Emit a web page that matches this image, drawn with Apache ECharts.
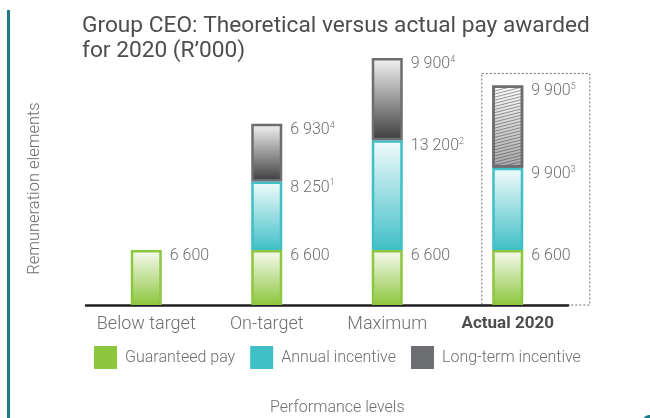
<!DOCTYPE html>
<html>
<head>
<meta charset="utf-8">
<title>Group CEO pay</title>
<script src="https://cdn.jsdelivr.net/npm/echarts@6/dist/echarts.min.js"></script>
<style>
  html, body { margin: 0; padding: 0; background: #fff; }
  #chart { width: 650px; height: 418px; }
</style>
</head>
<body>
<div id="chart"></div>
<script>
// data (R'000)
const categories = ['Below target', 'On-target', 'Maximum', 'Actual 2020']
const guaranteedPay = [6600, 6600, 6600, 6600]
const annualIncentive = [null, 8250, 13200, 9900]
const longTermIncentive = [null, 6930, 9900, 9900]
// footnote markers next to the value labels
const annualNotes = ['', '1', '2', '3']
const longTermNotes = ['', '4', '4', '5']
const seriesNames = ['Guaranteed pay', 'Annual incentive', 'Long-term incentive']

const GREEN = '#8dc63f'
const CYAN = '#40bfc6'
const GREY = '#6d6e71'
const TEXT = '#6d6e71'
const FONT = 'Roboto'

const chart = echarts.init(document.getElementById('chart'))

// 6600 -> "6 600"
const fmt = (v) => String(v).replace(/\B(?=(\d{3})+(?!\d))/g, ' ')

const grad = (c0, c1) =>
  new echarts.graphic.LinearGradient(0, 0, 0, 1, [
    { offset: 0, color: c0 },
    { offset: 1, color: c1 },
  ])

const valueLabel = (notes) => ({
  show: true,
  position: [39, -3],
  align: 'left',
  verticalAlign: 'top',
  formatter: (p) => {
    const n = notes ? notes[p.dataIndex] : ''
    return n ? '{v|' + fmt(p.value) + '}{s|' + n + '}' : '{v|' + fmt(p.value) + '}'
  },
  rich: {
    v: { fontFamily: FONT, fontWeight: 300, fontSize: 16, color: TEXT, lineHeight: 18 },
    s: { fontFamily: FONT, fontWeight: 300, fontSize: 9, color: TEXT, lineHeight: 12, verticalAlign: 'top' },
  },
})

// the actual long-term incentive is drawn hatched
const lastIdx = categories.length - 1
const ltiData = longTermIncentive.map((v, i) =>
  i === lastIdx
    ? {
        value: v,
        itemStyle: {
          color: grad('#ffffff', '#a9a9ab'),
          decal: {
            symbol: 'rect',
            symbolSize: 1,
            dashArrayX: [1, 0],
            dashArrayY: [0.8, 2],
            rotation: -0.25,
            color: 'rgba(70, 70, 72, 0.55)',
          },
        },
      }
    : v
)

const option = {
  animation: false,
  title: [
    {
      text: 'Group CEO: Theoretical versus actual pay awarded\nfor 2020 (R\u2019000)',
      left: 77,
      top: 9,
      textStyle: { fontFamily: FONT, fontWeight: 'normal', fontSize: 22.7, lineHeight: 25, color: '#4d4d4f' },
    },
    {
      text: 'Performance levels',
      left: 265,
      top: 395,
      textStyle: { fontFamily: FONT, fontWeight: 300, fontSize: 16, color: TEXT },
    },
  ],
  legend: {
    left: 89,
    top: 341,
    icon: 'rect',
    itemWidth: 23,
    itemHeight: 23,
    itemGap: 15,
    textStyle: { fontFamily: FONT, fontWeight: 300, fontSize: 16, color: TEXT, padding: [0, 0, 0, 3] },
    data: [
      { name: seriesNames[0], itemStyle: { color: GREEN, borderWidth: 0 } },
      { name: seriesNames[1], itemStyle: { color: CYAN, borderWidth: 0 } },
      { name: seriesNames[2], itemStyle: { color: GREY, borderWidth: 0 } },
    ],
  },
  grid: { left: 86, right: 82, top: 58, bottom: 113 },
  xAxis: {
    type: 'category',
    data: categories,
    axisLine: { show: true, lineStyle: { color: '#231f20', width: 2.5 } },
    axisTick: { show: false },
    axisLabel: {
      interval: 0,
      margin: 10,
      fontFamily: FONT,
      fontWeight: 300,
      fontSize: 18,
      color: TEXT,
      formatter: (v, i) => (i === lastIdx ? '{b|' + v + '}' : v),
      rich: { b: { fontFamily: FONT, fontWeight: 'bold', fontSize: 17, color: '#4d4d4f' } },
    },
  },
  yAxis: {
    type: 'value',
    min: 0,
    max: 29700,
    name: 'Remuneration elements',
    nameLocation: 'middle',
    nameGap: 43,
    nameTextStyle: { fontFamily: FONT, fontWeight: 300, fontSize: 16.5, color: TEXT, padding: [0, 14, 0, 0] },
    axisLine: { show: false },
    axisTick: { show: false },
    axisLabel: { show: false },
    splitLine: { show: false },
  },
  series: [
    {
      name: seriesNames[0],
      type: 'bar',
      stack: 'pay',
      barWidth: 31,
      itemStyle: { color: grad('#f8fbf2', GREEN), borderColor: GREEN, borderWidth: 2.5 },
      label: valueLabel(null),
      data: guaranteedPay,
    },
    {
      name: seriesNames[1],
      type: 'bar',
      stack: 'pay',
      itemStyle: { color: grad('#f3fbfb', CYAN), borderColor: CYAN, borderWidth: 2.5 },
      label: valueLabel(annualNotes),
      data: annualIncentive,
    },
    {
      name: seriesNames[2],
      type: 'bar',
      stack: 'pay',
      itemStyle: { color: grad('#f4f4f4', '#3d3d3f'), borderColor: GREY, borderWidth: 2.5 },
      label: valueLabel(longTermNotes),
      data: ltiData,
    },
  ],
}

chart.setOption(option)

// decoration: teal rule on the left and the dotted box round the actual column
const actualTotal = guaranteedPay[lastIdx] + annualIncentive[lastIdx] + longTermIncentive[lastIdx]
const boxTop = chart.convertToPixel({ gridIndex: 0 }, [lastIdx, actualTotal])
const boxBase = chart.convertToPixel({ gridIndex: 0 }, [lastIdx, 0])

chart.setOption({
  graphic: [
    {
      type: 'rect',
      shape: { x: 7, y: 10, width: 3, height: 420 },
      style: { fill: '#1b7c87' },
    },
    {
      type: 'circle',
      shape: { cx: 649, cy: 421, r: 6 },
      style: { fill: '#1b7c87' },
    },
    {
      type: 'rect',
      z: -1,
      shape: { x: boxTop[0] - 26, y: boxTop[1] - 12, width: 108, height: boxBase[1] - boxTop[1] + 12 },
      style: { fill: 'none', stroke: '#6d6e71', lineWidth: 1, lineDash: [2, 2] },
    },
  ],
})
</script>
</body>
</html>
